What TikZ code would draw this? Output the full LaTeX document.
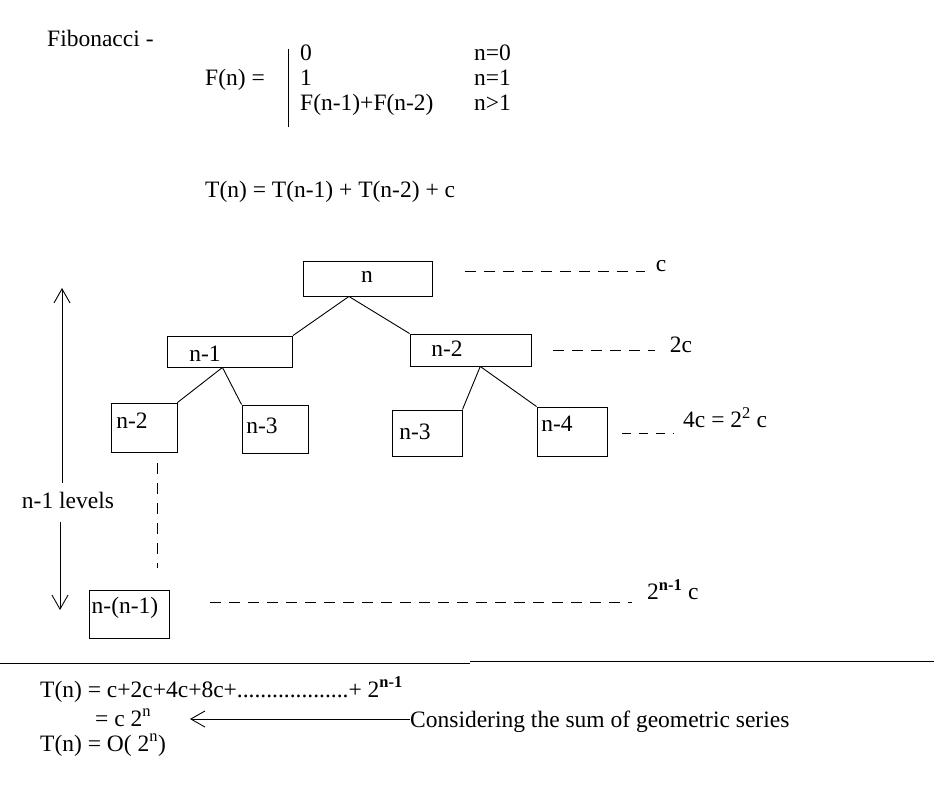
\documentclass[tikz,border=0pt]{standalone}
\usepackage{fontspec}
\setmainfont{Liberation Serif}
\usetikzlibrary{arrows.meta,calc}
\begin{document}
\begin{tikzpicture}[x=1pt,y=-1pt,
  every node/.style={font=\fontsize{23.5}{27}\selectfont, inner sep=0pt},
  box/.style={draw, line width=0.9pt, rectangle},
  link/.style={line width=0.9pt},
  lvl/.style={line width=0.9pt, dash pattern=on 11pt off 8pt},
  vdash/.style={line width=0.9pt, dash pattern=on 11pt off 9pt},
  barb/.style={line width=0.9pt, -{Straight Barb[length=14pt,width=16pt]}},
  txt/.style={anchor=base west}]
\useasboundingbox[fill=white] (0,0) rectangle (934,795);
% header
\node[txt] (fib) at (47,46) {Fibonacci -};
\node[txt] (fn) at (205,85) {F(n) =};
\coordinate (bart) at (288,49);
\coordinate (barb) at (288,127);
\draw[link] (bart) -- (barb);
\node[txt] (c0) at (300,60) {0};
\node[txt] (c1) at (300,85) {1};
\node[txt] (c2) at (300,110) {F(n-1)+F(n-2)};
\node[txt] (d0) at (474,60) {n=0};
\node[txt] (d1) at (474,85) {n=1};
\node[txt] (d2) at (474,110) {n>1};
\node[txt] (rec) at (205,197) {T(n) = T(n-1) + T(n-2) + c};
% boxes
\node[box, minimum width=129pt, minimum height=35pt] (n) at (367.5,278.5) {};
\node[box, minimum width=125pt, minimum height=31pt] (n1) at (230,351.5) {};
\node[box, minimum width=121pt, minimum height=32pt] (n2) at (470.5,350) {};
\node[box, minimum width=66pt, minimum height=49pt] (a) at (144,427.5) {};
\node[box, minimum width=66pt, minimum height=48pt] (b) at (275,429) {};
\node[box, minimum width=70pt, minimum height=46pt] (cc) at (427,433) {};
\node[box, minimum width=70pt, minimum height=49pt] (d) at (572,431.5) {};
\node[box, minimum width=80pt, minimum height=48pt] (last) at (129,614) {};
% box texts
\node (tn) at (367,277) {n};
\node (tn1) at (205,354) {n-1};
\node (tn2) at (447,349) {n-2};
\node (ta) at (132,421) {n-2};
\node (tb) at (262,426) {n-3};
\node (tc) at (415,432) {n-3};
\node (td) at (557,424) {n-4};
\node (tl) at (125,608) {n-(n-1)};
% tree links
\coordinate (np) at ($(n.south west)!0.357!(n.south east)$);
\coordinate (n1p) at ($(n1.south west)!0.44!(n1.south east)$);
\coordinate (n2p) at ($(n2.south west)!0.58!(n2.south east)$);
\draw[link] (np) -- (n1.north east);
\draw[link] (np) -- (n2.north west);
\draw[link] (n1p) -- (a.north east);
\draw[link] (n1p) -- (b.north west);
\draw[link] (n2p) -- (cc.north east);
\draw[link] (n2p) -- (d.north west);
% vertical dashed
\coordinate (v1) at (157,463);
\coordinate (v2) at (157,568);
\draw[vdash] (v1) -- (v2);
% level cost lines
\node (l0) at (661,266) {c};
\coordinate (h0a) at (465,271);
\coordinate (h0b) at (645,271);
\draw[lvl] (h0a) -- (h0b);
\node (l1) at (681,345) {2c};
\coordinate (h1a) at (553,350);
\coordinate (h1b) at (655,350);
\draw[lvl] (h1a) -- (h1b);
\node[anchor=west] (l2) at (683,418) {4c = 2\textsuperscript{2} c};
\coordinate (h2a) at (622,433);
\coordinate (h2b) at (674,433);
\draw[lvl, dash pattern=on 9pt off 8pt] (h2a) -- (h2b);
\node[anchor=west] (l3) at (647,590) {2\textsuperscript{\textbf{n-1}} c};
\coordinate (h3a) at (210,602);
\coordinate (h3b) at (632,602);
\draw[lvl] (h3a) -- (h3b);
% levels arrow
\node (lv) at (68,500) {n-1 levels};
\coordinate (au) at (62,288);
\coordinate (aus) at (62,483);
\coordinate (ad) at (60,610);
\coordinate (ads) at (60,522);
\draw[barb] (aus) -- (au);
\draw[barb] (ads) -- (ad);
% separator
\coordinate (s0) at (0,663);
\coordinate (s1) at (470,663);
\coordinate (s2) at (470,661);
\coordinate (s3) at (934,661);
\draw[link] (s0) -- (s1);
\draw[link] (s2) -- (s3);
% bottom
\node[txt] (b1) at (40,697) {T(n) = c+2c+4c+8c+...................+ 2\smash{\textsuperscript{\textbf{n-1}}}};
\node[txt] (b2) at (95,726) {= c 2\smash{\textsuperscript{n}}};
\node[txt] (cons) at (410,727) {Considering the sum of geometric series};
\coordinate (tip) at (190,719);
\draw[barb] (cons.west |- tip) -- (tip);
\node[txt] (b3) at (40,751) {T(n) = O( 2\smash{\textsuperscript{n}})};
\end{tikzpicture}
\end{document}
